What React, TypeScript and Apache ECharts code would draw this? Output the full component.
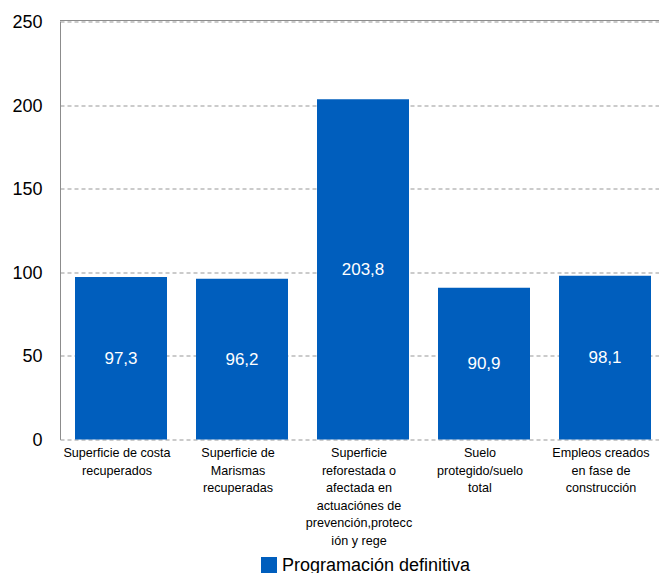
import React, { useEffect, useRef } from "react";
import * as echarts from "echarts";

const categories = [
  "Superficie de costa\nrecuperados",
  "Superficie de\nMarismas\nrecuperadas",
  "Superficie\nreforestada o\nafectada en\nactuaciónes de\nprevención,protecc\nión y rege",
  "Suelo\nprotegido/suelo\ntotal",
  "Empleos creados\nen fase de\nconstrucción",
];
const values = [97.3, 96.2, 203.8, 90.9, 98.1];
const seriesName = "Programación definitiva";
const yTicks = { min: 0, max: 250, interval: 50 };

const FONT = "'Liberation Sans', Arial, sans-serif";

export default function App() {
  const ref = useRef<HTMLDivElement>(null);
  useEffect(() => {
    if (!ref.current) return;
    const chart = echarts.init(ref.current, undefined, { renderer: "svg" });
    chart.setOption({
      animation: false,
      textStyle: { fontFamily: FONT },
      grid: { left: 60.5, top: 22, width: 605, height: 417.5, containLabel: false },
      legend: {
        left: 256,
        top: 551,
        itemWidth: 16,
        itemHeight: 16,
        itemGap: 12,
        icon: "rect",
        textStyle: { fontSize: 18, color: "#000", fontFamily: FONT },
        data: [seriesName],
      },
      xAxis: {
        type: "category",
        data: categories,
        axisLine: { show: false },
        axisTick: { show: false },
        axisLabel: {
          interval: 0,
          margin: 5,
          fontSize: 12.6,
          lineHeight: 17.5,
          color: "#000",
          fontFamily: FONT,
          align: "center",
          verticalAlign: "top",
          padding: [0, 8, 0, 0],
        },
      },
      yAxis: {
        type: "value",
        min: yTicks.min,
        max: yTicks.max,
        interval: yTicks.interval,
        axisLine: { show: true, lineStyle: { color: "#8c8c8c", width: 1 } },
        axisTick: { show: false },
        axisLabel: { fontSize: 18, color: "#000", margin: 18, fontFamily: FONT },
        splitLine: { show: true, lineStyle: { color: "#bbbbbb", type: [4, 3], width: 1.5 } },
      },
      graphic: [
        {
          type: "line",
          shape: { x1: 60, y1: 20.5, x2: 670, y2: 20.5 },
          style: { stroke: "#8c8c8c", lineWidth: 1 },
        },
      ],
      series: [
        {
          name: seriesName,
          type: "bar",
          data: values,
          barWidth: 92,
          itemStyle: { color: "#005EBD" },
          label: {
            show: true,
            position: "inside",
            color: "#fff",
            fontSize: 17,
            fontFamily: FONT,
            formatter: (p: any) => String(p.value).replace(".", ","),
          },
        },
      ],
    });
    return () => chart.dispose();
  }, []);
  return (
    <div style={{ width: 659, height: 573, position: "absolute", left: 0, top: 0, overflow: "hidden" }}>
      <div ref={ref} style={{ width: 672, height: 573 }} />
    </div>
  );
}
